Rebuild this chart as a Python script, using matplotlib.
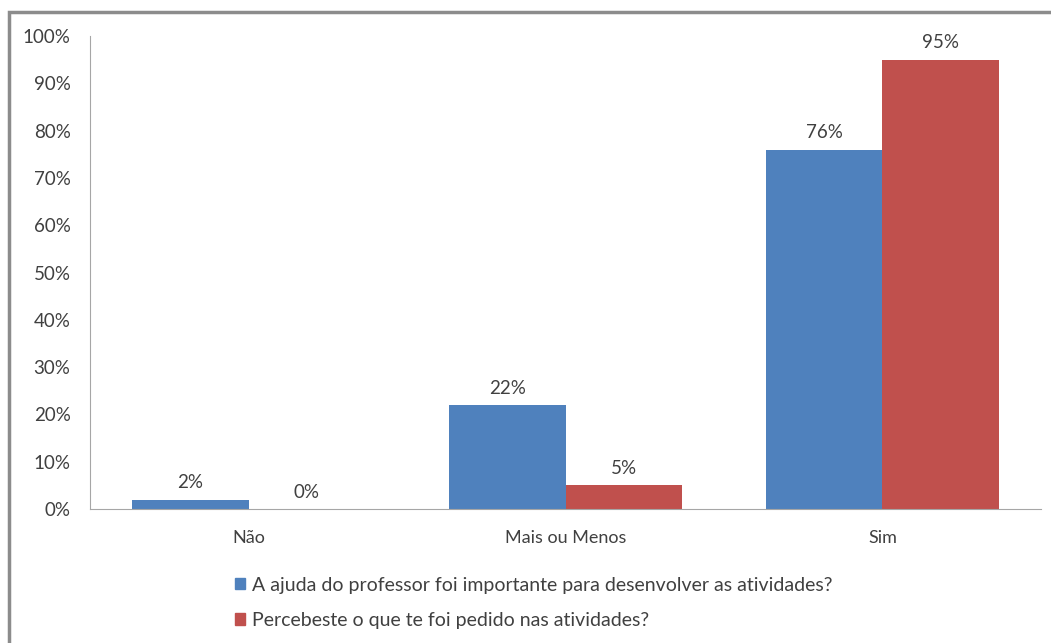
import numpy as np
import matplotlib.pyplot as plt
from matplotlib.patches import Patch, Rectangle

plt.rcParams['font.family'] = ['Lato', 'DejaVu Sans']

categories = ['Não', 'Mais ou Menos', 'Sim']
ajuda = [2, 22, 76]
percebeste = [0, 5, 95]
series_names = ['A ajuda do professor foi importante para desenvolver as atividades?',
                'Percebeste o que te foi pedido nas atividades?']
colors = ['#4F81BD', '#C0504D']
text_color = '#404040'

fig = plt.figure(figsize=(10.51, 6.43), dpi=100)
ax = fig.add_axes([90 / 1051, 1 - 509 / 643, 951 / 1051, 473 / 643])

x = np.arange(len(categories))
w = 0.366
b1 = ax.bar(x - w / 2, ajuda, w, color=colors[0])
b2 = ax.bar(x + w / 2, percebeste, w, color=colors[1])

for bars, vals in [(b1, ajuda), (b2, percebeste)]:
    for rect, v in zip(bars, vals):
        ax.annotate(f'{v}%', (rect.get_x() + rect.get_width() / 2, v),
                    xytext=(0, 6), textcoords='offset points',
                    ha='center', va='bottom', fontsize=13.5, color=text_color)

ax.set_xlim(-0.5, 2.5)
ax.set_ylim(0, 100)
ax.set_yticks(range(0, 101, 10))
ax.set_yticklabels([f'{t}%' for t in range(0, 101, 10)])
ax.set_xticks(x)
ax.set_xticklabels(categories)
ax.tick_params(axis='both', length=0, labelcolor=text_color)
ax.tick_params(axis='y', pad=14, labelsize=13.5)
ax.tick_params(axis='x', pad=15, labelsize=13)
for s in ['top', 'right']:
    ax.spines[s].set_visible(False)
for s in ['left', 'bottom']:
    ax.spines[s].set_color('#A6A6A6')

handles = [Patch(color=c) for c in colors]
fig.legend(handles, series_names, loc='upper left',
           bbox_to_anchor=(217 / 1051, 1 - 559 / 643), frameon=False,
           fontsize=14, labelcolor=text_color, handlelength=0.55,
           handleheight=0.55, handletextpad=0.35, labelspacing=0.95)

fig.patches.append(Rectangle((9 / 1051, -0.1), 1.2, 1.1 - 12 / 643,
                             transform=fig.transFigure, fill=False,
                             edgecolor='#8C8C8C', linewidth=2.5))

fig.savefig('out.png', dpi=100)
